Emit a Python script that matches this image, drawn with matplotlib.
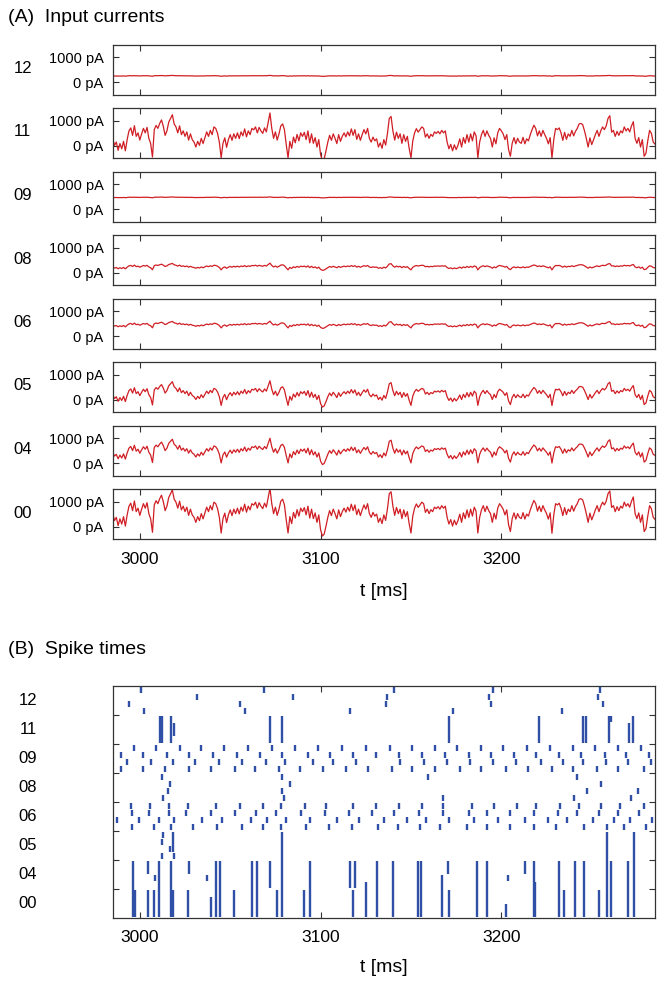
import matplotlib.pyplot as plt
import numpy as np

plt.rcParams['font.family'] = ['Liberation Sans', 'DejaVu Sans']

# Input current of channel 11 (pA), one value per ms starting at 2985 ms
t_start = 2985
trace_11 = [
    300, 20, 150, -180, 90, -120, 180, -200, 250, 600,
    720, 420, 810, 380, 520, 230, 480, 700, 520, 740,
    300, 90, -450, 650, 820, 700, 900, 1040, 780, 420,
    600, 950, 1100, 1250, 880, 760, 520, 800, 450, 600,
    380, 560, 230, 480, 250, 150, -50, 180, 20, 300,
    90, 330, 560, 380, 620, 450, 760, 700, 500, 150,
    -480, 100, 320, -60, 250, 450, 220, 480, 300, 520,
    290, 560, 400, 680, 360, 600, 450, 700, 640, 760,
    520, 740, 600, 500, 720, 560, 950, 1320, 700, 300,
    560, 230, 480, 800, 880, 650, 50, -480, 180, -100,
    350, 120, 460, 200, 520, 380, 540, 250, 600, 120,
    480, 100, 330, -50, 250, -350, -600, -520, -200, 150,
    420, 220, 480, 300, 90, 450, 180, 380, 520, 360,
    560, 400, 680, 420, 650, 260, 480, 220, 450, 650,
    480, 700, 300, 150, 350, 200, 280, -50, 120, -100,
    250, 30, 500, 1100, 1180, 600, 230, 550, 300, 480,
    100, 450, 180, 380, -100, -480, 200, 520, 690, 550,
    650, 760, 700, 350, 480, 300, 460, 380, 560, 500,
    580, 480, 620, 520, 600, 150, -120, 60, -200, 40,
    -150, 20, 280, -50, 330, 100, 450, 150, 480, 200,
    560, 400, -480, 150, 450, 620, 380, 600, 420, 300,
    -50, 320, 80, 520, 700, 600, 480, 250, 450, -150,
    -420, 100, 330, 80, 300, 150, 100, 340, 80, 280,
    200, 450, 650, 830, 700, 400, 600, 380, 620, 450,
    300, 80, 330, -490, 250, 700, 650, 720, 520, 220,
    540, 260, 480, 380, 620, 400, 580, 700, 880, 900,
    850, 600, 300, -50, 320, 50, 240, 450, 620, 380,
    600, 760, 650, 800, 1100, 1210, 550, 620, 380, 580,
    420, 600, 520, 760, 600, 700, 560, 800, 970, 300,
    100, 330, -50, 250, -420, -300, 200, 620, 500, 150, 70,
]
trace_mean = 400

# the other channels carry the same fluctuation, scaled and shifted
channels = ['12', '11', '09', '08', '06', '05', '04', '00']
baseline = [260, 400, 480, 250, 470, 260, 500, 630]
gain = [0.02, 1.0, 0.02, 0.15, 0.15, 0.55, 0.55, 1.0]

# spike raster: 32 neurons, 4 per channel group (row 0 = top)
row_spikes = [
    # 12
    [3000.4, 3068.7, 3140.8, 3195.3, 3254.7],
    [3031.5, 3084.7, 3136.7, 3193.4, 3253.2],
    [2994.2, 3055.3, 3136.0, 3194.3, 3256.0],
    [3002.5, 3058.2, 3116.4, 3173.5, 3233.5],
    # 11 (volleys only)
    [], [], [], [],
    # 09
    [2997.0, 3008.9, 3022.0, 3033.8, 3046.8, 3060.1, 3073.1, 3085.6, 3098.5, 3111.6, 3125.2,
     3138.2, 3150.4, 3163.1, 3175.6, 3188.8, 3201.1, 3214.2, 3226.9, 3239.4, 3251.6, 3264.6, 3277.1],
    [2989.4, 3001.7, 3014.8, 3027.3, 3040.6, 3053.8, 3066.5, 3078.8, 3093.2, 3105.0, 3117.8, 3130.7,
     3143.4, 3156.3, 3169.1, 3182.0, 3194.3, 3207.2, 3219.2, 3231.7, 3244.0, 3257.1, 3268.9, 3281.7],
    [2992.7, 3006.2, 3018.5, 3030.8, 3043.9, 3056.8, 3070.0, 3080.5, 3095.8, 3106.8, 3119.7,
     3144.1, 3157.0, 3169.9, 3182.7, 3195.3, 3208.1, 3221.9, 3233.9, 3245.3, 3257.8, 3269.8, 3282.7],
    [2989.4, 3001.7, 3014.2, 3027.1, 3039.3, 3052.9, 3063.7, 3076.8, 3088.8, 3101.6, 3114.0, 3126.3,
     3139.5, 3150.7, 3163.2, 3176.9, 3189.0, 3202.3, 3214.8, 3227.8, 3239.4, 3252.7, 3264.8, 3279.0],
    # 08
    [3012.4, 3078.8, 3159.4, 3241.8],
    [3016.6, 3083.2, 3255.4],
    [3015.7, 3078.8, 3247.3, 3275.7],
    [3013.0, 3079.8, 3167.7, 3240.0, 3271.6],
    # 06
    [2995.1, 3005.6, 3016.1, 3026.8, 3042.0, 3055.6, 3068.2, 3078.3, 3091.2, 3103.1, 3117.8, 3130.4,
     3143.4, 3156.1, 3167.7, 3183.9, 3195.8, 3208.7, 3219.2, 3232.6, 3243.1, 3255.1, 3265.5, 3279.0],
    [2995.5, 3005.0, 3016.3, 3025.8, 3039.3, 3052.5, 3064.5, 3075.5, 3089.3, 3102.6, 3115.6, 3128.5,
     3140.4, 3154.4, 3167.7, 3182.0, 3192.1, 3204.8, 3218.3, 3231.1, 3241.8, 3254.1, 3264.8, 3276.2],
    [2987.2, 2999.5, 3010.8, 3018.8, 3034.5, 3045.7, 3061.7, 3070.4, 3081.0, 3094.3, 3109.0, 3121.5,
     3134.9, 3147.8, 3158.5, 3170.8, 3185.1, 3198.4, 3213.1, 3225.6, 3236.3, 3250.5, 3262.4, 3271.1, 3283.6],
    [2995.5, 3008.0, 3017.2, 3029.5, 3042.8, 3056.6, 3068.2, 3078.3, 3091.7, 3104.4, 3117.5, 3131.6,
     3142.8, 3154.8, 3165.8, 3180.9, 3191.9, 3205.0, 3217.9, 3230.2, 3245.9, 3258.7, 3267.9, 3279.9],
    # 05
    [3013.0],
    [3012.0],
    [3016.6],
    [3012.0, 3019.0],
    # 04 and 00 (volleys only)
    [], [], [], [], [], [], [], [],
]

# synchronous spikes spanning several rows: (time, first row, last row)
volleys = [
    (3011.1, 4, 7), (3012.2, 4, 7), (3017.4, 4, 7), (3018.8, 5, 6), (3071.8, 4, 7),
    (3078.8, 4, 7), (3170.8, 4, 7), (3220.7, 4, 7), (3245.0, 4, 7), (3246.8, 4, 7),
    (3259.7, 4, 7), (3260.6, 4, 4), (3270.7, 5, 7), (3272.9, 4, 7),
    (3018.5, 20, 22),
    (2996.4, 24, 31), (2997.3, 28, 31), (3004.7, 24, 25), (3004.3, 28, 31), (3008.4, 26, 26),
    (3008.0, 28, 31), (3010.8, 24, 31), (3017.0, 24, 31), (3018.1, 28, 31), (3027.3, 24, 25),
    (3026.8, 28, 31), (3037.2, 26, 26), (3039.3, 29, 31), (3042.0, 24, 31), (3044.2, 24, 31),
    (3052.0, 28, 31), (3062.1, 24, 31), (3064.7, 24, 31), (3071.8, 24, 27), (3076.1, 28, 31),
    (3078.8, 20, 31), (3090.6, 28, 31), (3094.3, 24, 31), (3116.4, 24, 27), (3117.8, 28, 31),
    (3118.8, 24, 27), (3125.2, 27, 31), (3131.1, 24, 31), (3140.1, 24, 31), (3153.9, 24, 31),
    (3155.7, 24, 31), (3167.1, 26, 31), (3170.4, 24, 25), (3171.3, 28, 31), (3186.6, 24, 31),
    (3192.0, 24, 31), (3202.6, 30, 31), (3203.5, 26, 26), (3213.1, 24, 25), (3217.9, 24, 31),
    (3218.6, 27, 31), (3232.1, 24, 31), (3234.5, 28, 31), (3240.7, 24, 31), (3245.5, 24, 31),
    (3254.1, 28, 31), (3258.7, 20, 31), (3260.9, 24, 31), (3269.8, 24, 31), (3273.5, 20, 31),
]

xlim = (2985, 3285)
xticks = [3000, 3100, 3200]
red = '#d01e24'
blue = '#3050a8'
spine_col = '#333333'

W, H = 664, 981
fig = plt.figure(figsize=(W / 100, H / 100), dpi=100)


def px_axes(left, top, right, bottom):
    return fig.add_axes([left / W, 1 - bottom / H, (right - left) / W, (bottom - top) / H])


def style(ax):
    for s in ax.spines.values():
        s.set_color(spine_col)
        s.set_linewidth(0.9)
    ax.tick_params(direction='in', length=4.5, width=0.8, color=spine_col,
                   top=True, right=True)


# ---- (A) input currents ----
t = t_start + np.arange(len(trace_11))
base = np.array(trace_11, dtype=float)
fig.text(8 / W, 1 - 17 / H, '(A)  Input currents', va='center', ha='left', fontsize=14)
for k, ch in enumerate(channels):
    top = 44.5 + 63.5 * k
    ax = px_axes(112.7, top, 655, top + 50)
    y = baseline[k] + gain[k] * (base - trace_mean)
    ax.plot(t, y, color=red, lw=0.9)
    ax.set_xlim(*xlim)
    ax.set_ylim(-490, 1520)
    ax.set_yticks([0, 1000])
    ax.set_yticklabels(['0 pA', '1000 pA'])
    ax.set_xticks(xticks)
    style(ax)
    ax.tick_params(axis='y', labelsize=10.5, pad=6.5)
    if k == len(channels) - 1:
        ax.tick_params(axis='x', labelsize=12.5, pad=9)
    else:
        ax.tick_params(axis='x', labelbottom=False)
    fig.text(22.6 / W, 1 - (top + 24) / H, ch, ha='center', va='center', fontsize=12)
fig.text(383.8 / W, 1 - 591 / H, 't [ms]', ha='center', va='center', fontsize=14)

# ---- (B) spike times ----
fig.text(8 / W, 1 - 650 / H, '(B)  Spike times', va='center', ha='left', fontsize=14)
axb = px_axes(112.7, 686, 655, 918)
for r, times in enumerate(row_spikes):
    if times:
        axb.vlines(times, r + 0.08, r + 0.92, color=blue, lw=1.7)
for tv, r0, r1 in volleys:
    axb.vlines(tv, r0 + 0.08, r1 + 0.92, color=blue, lw=1.7)
axb.set_xlim(*xlim)
axb.set_ylim(32, 0)
axb.set_xticks(xticks)
axb.set_yticks(np.arange(4, 32, 4))
axb.set_yticklabels([])
style(axb)
axb.tick_params(axis='x', labelsize=12.5, pad=9)
for g, ch in enumerate(channels):
    yc = 686 + (g * 4 + 2) * 232 / 32
    fig.text(28 / W, 1 - yc / H, ch, ha='center', va='center', fontsize=12)
fig.text(383.8 / W, 1 - 968 / H, 't [ms]', ha='center', va='center', fontsize=14)

fig.savefig('out.png', dpi=100)
